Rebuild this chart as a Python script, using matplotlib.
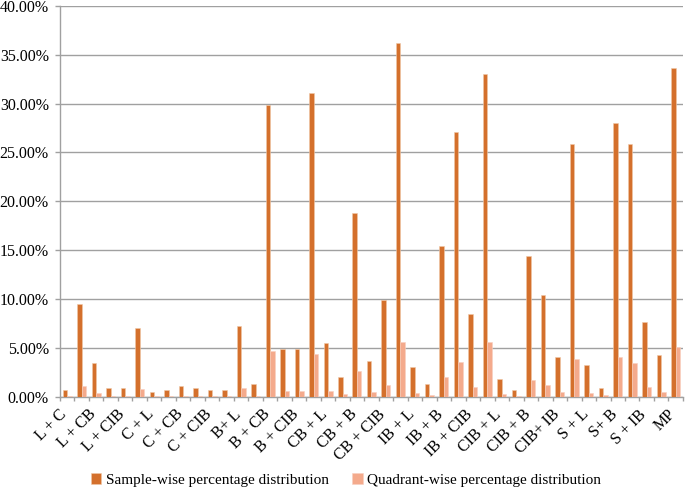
import matplotlib
matplotlib.use("Agg")
import matplotlib.pyplot as plt
import matplotlib.transforms as mtransforms
import numpy as np
from matplotlib.ticker import FuncFormatter, MultipleLocator

categories = ["L + C", "L + B", "L + CB", "L + IB", "L + CIB", "L + S",
              "C + L", "C + B", "C + CB", "C + IB", "C + CIB", "C + S",
              "B+ L", "B + C", "B + CB", "B + IB", "B + CIB", "B + S",
              "CB + L", "CB + C", "CB + B", "CB + IB", "CB + CIB", "CB + S",
              "IB + L", "IB + C", "IB + B", "IB + CB", "IB + CIB", "IB + S",
              "CIB + L", "CIB + C", "CIB + B", "CIB + CB", "CIB+ IB", "CIB + S",
              "S + L", "S + C", "S+ B", "S + CB", "S + IB", "S + CIB",
              "MP"]

sample_wise = [0.65, 9.45, 3.45, 0.85, 0.85, 7.0,
               0.45, 0.65, 1.05, 0.85, 0.65, 0.65,
               7.25, 1.3, 29.85, 4.85, 4.85, 31.05,
               5.45, 2.05, 18.85, 3.65, 9.85, 36.25,
               3.05, 1.25, 15.4, 27.05, 8.45, 33.05,
               1.85, 0.65, 14.45, 10.45, 4.05, 25.85,
               3.2, 0.85, 28.05, 25.85, 7.65, 4.25,
               33.65]

quadrant_wise = [0.12, 1.1, 0.4, 0.12, 0.12, 0.78,
                 0.05, 0.12, 0.12, 0.12, 0.12, 0.1,
                 0.88, 0.05, 4.68, 0.58, 0.58, 4.38,
                 0.6, 0.28, 2.66, 0.45, 1.17, 5.62,
                 0.34, 0.14, 1.98, 3.52, 0.98, 5.62,
                 0.24, 0.1, 1.75, 1.23, 0.5, 3.86,
                 0.38, 0.14, 4.03, 3.45, 0.98, 0.48,
                 5.05]

shown_labels = [c if i % 2 == 0 else "" for i, c in enumerate(categories)]

orange = "#D4702C"
pink = "#F4AA8C"
grid_c = "#A0A0A0"

plt.rcParams['font.family'] = ['Liberation Serif', 'DejaVu Serif']

fig = plt.figure(figsize=(6.85, 4.92), dpi=100)
ax = fig.add_axes([0.0876, 0.1937, 0.9094, 0.7943])

x = np.arange(len(categories))
w = 0.31
ax.bar(x - w / 2, sample_wise, width=w, color=orange, edgecolor="#F0C8A8",
       linewidth=0.4, label="Sample-wise percentage distribution", zorder=3)
ax.bar(x + w / 2, quadrant_wise, width=w, color=pink, edgecolor="#F8D0C0",
       linewidth=0.4, label="Quadrant-wise percentage distribution", zorder=3)

ax.set_xlim(-0.5, len(categories) - 0.5)
ax.set_ylim(0, 40)
ax.yaxis.set_major_locator(MultipleLocator(5))
ax.yaxis.set_major_formatter(FuncFormatter(lambda v, p: f"{v:.2f}%"))
ax.grid(axis="y", color=grid_c, linewidth=1.0, zorder=0)

ax.set_xticks(x)
ax.set_xticklabels(shown_labels, rotation=45, ha="right",
                   rotation_mode="anchor", fontsize=11.5)
ax.tick_params(axis="x", which="major", length=0, pad=7)
shift = mtransforms.ScaledTranslation(-6 / 72, 0, fig.dpi_scale_trans)
for lbl in ax.get_xticklabels():
    lbl.set_transform(lbl.get_transform() + shift)
ax.set_xticks(np.arange(-0.5, len(categories), 1.0), minor=True)
ax.tick_params(axis="x", which="minor", length=3, color=grid_c, width=1.0)
ax.tick_params(axis="y", length=3.6, color=grid_c, width=1.0, labelsize=11.5, pad=4.5)

for s in ["top", "right"]:
    ax.spines[s].set_visible(False)
for s in ["left", "bottom"]:
    ax.spines[s].set_color(grid_c)
    ax.spines[s].set_linewidth(1.0)

leg = fig.legend(loc="lower center", bbox_to_anchor=(0.505, -0.018), ncol=2,
                 frameon=False, fontsize=11, handlelength=0.7, handleheight=0.7,
                 handletextpad=0.3, columnspacing=1.5)

fig.savefig("out.png", dpi=100)
